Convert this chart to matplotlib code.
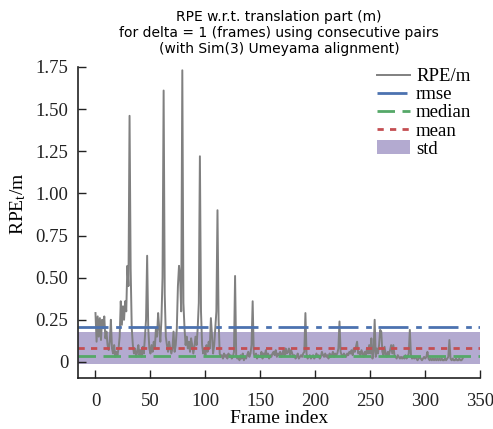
import matplotlib
matplotlib.use("Agg")
import matplotlib.pyplot as plt
import numpy as np

# RPE (translation part) per frame
rpe = [
    0.29, 0.12, 0.27, 0.15, 0.26, 0.13, 0.25, 0.20, 0.27, 0.14,
    0.18, 0.10, 0.07, 0.12, 0.25, 0.08, 0.05, 0.10, 0.03, 0.06,
    0.04, 0.08, 0.15, 0.36, 0.22, 0.33, 0.25, 0.36, 0.30, 0.57,
    0.45, 1.46, 0.55, 0.20, 0.10, 0.05, 0.08, 0.03, 0.06, 0.10,
    0.04, 0.07, 0.03, 0.09, 0.05, 0.15, 0.25, 0.63, 0.20, 0.08,
    0.05, 0.10, 0.06, 0.12, 0.08, 0.20, 0.15, 0.29, 0.20, 0.12,
    0.25, 0.50, 1.61, 0.40, 0.15, 0.10, 0.06, 0.12, 0.08, 0.05,
    0.08, 0.18, 0.06, 0.10, 0.20, 0.45, 0.57, 0.50, 0.30, 1.73,
    0.35, 0.20, 0.10, 0.15, 0.08, 0.12, 0.06, 0.14, 0.10, 0.05,
    0.09, 0.15, 0.10, 0.20, 0.35, 1.22, 0.30, 0.10, 0.05, 0.08,
    0.04, 0.10, 0.06, 0.12, 0.08, 0.26, 0.15, 0.05, 0.10, 0.20,
    0.30, 0.90, 0.25, 0.05, 0.03, 0.04, 0.02, 0.05, 0.03, 0.04,
    0.02, 0.05, 0.03, 0.04, 0.02, 0.03, 0.06, 0.51, 0.04, 0.02,
    0.03, 0.01, 0.04, 0.02, 0.05, 0.01, 0.03, 0.02, 0.04, 0.06,
    0.03, 0.05, 0.10, 0.36, 0.05, 0.03, 0.05, 0.02, 0.04, 0.03,
    0.03, 0.06, 0.02, 0.05, 0.04, 0.07, 0.03, 0.05, 0.02, 0.04,
    0.03, 0.05, 0.06, 0.04, 0.07, 0.03, 0.05, 0.04, 0.06, 0.03,
    0.05, 0.07, 0.04, 0.08, 0.05, 0.06, 0.08, 0.04, 0.07, 0.05,
    0.03, 0.04, 0.02, 0.03, 0.05, 0.02, 0.03, 0.04, 0.03, 0.05,
    0.06, 0.29, 0.05, 0.02, 0.03, 0.04, 0.02, 0.03, 0.04, 0.02,
    0.03, 0.05, 0.03, 0.04, 0.02, 0.03, 0.06, 0.04, 0.03, 0.05,
    0.03, 0.04, 0.02, 0.05, 0.03, 0.04, 0.06, 0.03, 0.05, 0.04,
    0.05, 0.08, 0.24, 0.06, 0.04, 0.03, 0.05, 0.04, 0.03, 0.05,
    0.04, 0.06, 0.05, 0.07, 0.04, 0.08, 0.06, 0.09, 0.12, 0.05,
    0.06, 0.04, 0.07, 0.05, 0.03, 0.06, 0.04, 0.08, 0.05, 0.10,
    0.05, 0.14, 0.02, 0.06, 0.25, 0.03, 0.08, 0.05, 0.10, 0.19,
    0.18, 0.06, 0.04, 0.09, 0.05, 0.03, 0.06, 0.04, 0.07, 0.10,
    0.05, 0.10, 0.04, 0.03, 0.02, 0.04, 0.03, 0.02, 0.03, 0.02,
    0.03, 0.02, 0.04, 0.02, 0.03, 0.05, 0.19, 0.04, 0.02, 0.03,
    0.02, 0.03, 0.02, 0.01, 0.02, 0.03, 0.02, 0.01, 0.02, 0.03,
    0.02, 0.03, 0.06, 0.02, 0.01, 0.02, 0.01, 0.02, 0.01, 0.02,
    0.01, 0.02, 0.01, 0.02, 0.01, 0.02, 0.01, 0.01, 0.02, 0.01,
    0.02, 0.03, 0.13, 0.02, 0.01, 0.02, 0.01, 0.01, 0.02, 0.01,
    0.01, 0.02, 0.01, 0.01, 0.02,
]
frames = np.arange(len(rpe))

# statistics shown as horizontal lines
rmse = 0.206
median = 0.035
mean = 0.085
std = 0.19

plt.rcParams['font.family'] = ['Liberation Serif', 'DejaVu Serif']
plt.rcParams['mathtext.fontset'] = 'custom'
plt.rcParams['mathtext.rm'] = 'Liberation Serif'
plt.rcParams['mathtext.it'] = 'Liberation Serif:italic'

fig = plt.figure(figsize=(4.93, 4.29), dpi=100)
ax = fig.add_axes([0.158, 0.119, 0.816, 0.725])

ax.plot(frames, rpe, color='gray', lw=1.4, label='RPE/m')
ax.axhline(rmse, color='#4C72B0', lw=2.0, dashes=(10.8, 2.75, 2.05, 2.4), label='rmse')
ax.axhline(median, color='#55A868', lw=2.0, dashes=(6.3, 2.7), label='median')
ax.axhline(mean, color='#C44E52', lw=2.0, dashes=(2.25, 2.25), label='mean')
ax.axhspan(mean - std / 2, mean + std / 2, color='#8172B2', alpha=0.6, lw=0, label='std')

ax.set_xlim(-16, 350)
ax.set_ylim(-0.095, 1.75)
ax.set_xticks(range(0, 351, 50))
yt = [0, 0.25, 0.5, 0.75, 1.0, 1.25, 1.5, 1.75]
ax.set_yticks(yt)
ax.set_yticklabels(['0'] + ['%.2f' % v for v in yt[1:]])
ax.tick_params(direction='in', length=6, width=1, labelsize=13.5, colors='#222222')
ax.tick_params(axis='y', pad=7)
ax.tick_params(axis='x', pad=11)
ax.spines['top'].set_visible(False)
ax.spines['right'].set_visible(False)
for s in ['left', 'bottom']:
    ax.spines[s].set_linewidth(1.2)
    ax.spines[s].set_color('#222222')

ax.set_xlabel('Frame index', fontsize=14, labelpad=0)
ax.set_ylabel('RPE$_\\mathrm{t}$/m', fontsize=14)
ax.yaxis.set_label_coords(-0.125, 0.56)

ax.set_title('RPE w.r.t. translation part (m)\nfor delta = 1 (frames) using consecutive pairs\n(with Sim(3) Umeyama alignment)',
             family='DejaVu Sans', fontsize=10, pad=10)

ax.legend(loc='upper right', bbox_to_anchor=(1.02, 1.05), frameon=False, fontsize=13.5,
          handlelength=1.8, labelspacing=0.05, handletextpad=0.3)

fig.savefig('out.png', dpi=100)
